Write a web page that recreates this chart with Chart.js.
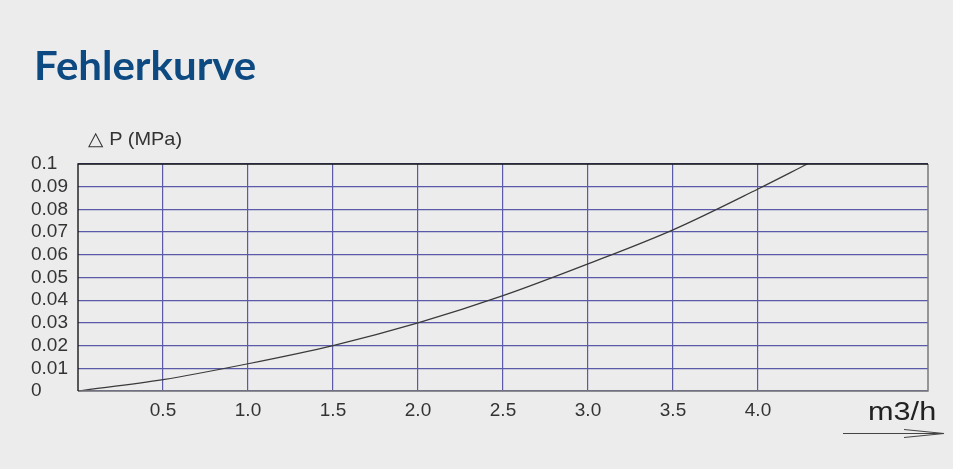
<!DOCTYPE html>
<html>
<head>
<meta charset="utf-8">
<script src="https://cdn.jsdelivr.net/npm/chart.js@4/dist/chart.umd.min.js"></script>
<style>
  html, body { margin:0; padding:0; background:#ececec; }
  #wrap { position:relative; width:953px; height:469px; overflow:hidden; background:#ececec; }
  canvas { position:absolute; left:0; top:0; }
  .t { position:absolute; white-space:nowrap; }
  #title { left:34px; top:41px; font-family:Lato, "Open Sans", sans-serif; font-weight:700; font-size:40px; color:#0d4a81; transform:scaleX(1.05); transform-origin:left top; }
  #ylab { left:88px; top:127px; font-family:"Liberation Sans", Arial, sans-serif; font-size:19px; color:#333; transform:scaleX(1.05); transform-origin:left top; }
  #xlab { left:868px; top:396px; font-family:"Liberation Sans", Arial, sans-serif; font-size:26px; color:#222; transform:scaleX(1.18); transform-origin:left top; }
</style>
</head>
<body>
<div id="wrap">
  <canvas id="c" width="953" height="469"></canvas>
  <div class="t" id="title">Fehlerkurve</div>
  <div class="t" id="ylab">△ P (MPa)</div>
  <div class="t" id="xlab">m3/h</div>
</div>
<script>
const flowX = [0, 0.5, 1.0, 1.5, 2.0, 2.5, 3.0, 3.5, 4.0, 4.29];
const pressureY = [0, 0.005, 0.012, 0.020, 0.030, 0.042, 0.056, 0.071, 0.089, 0.100];
const xTicks = [0.5, 1.0, 1.5, 2.0, 2.5, 3.0, 3.5, 4.0];
const yTicks = [0, 0.01, 0.02, 0.03, 0.04, 0.05, 0.06, 0.07, 0.08, 0.09, 0.1];
const xRange = [0, 5];
const yRange = [0, 0.1];

const points = flowX.map((x, i) => ({ x: x, y: pressureY[i] }));

const frame = {
  id: 'frame',
  afterDraw(chart) {
    const a = chart.chartArea, ctx = chart.ctx;
    ctx.save();
    ctx.lineWidth = 1.5;
    ctx.strokeStyle = '#7a7a7a';
    ctx.beginPath();
    ctx.moveTo(a.left, a.bottom); ctx.lineTo(a.right, a.bottom); ctx.lineTo(a.right, a.top);
    ctx.stroke();
    ctx.strokeStyle = '#1a1a1a';
    ctx.lineWidth = 1.4;
    ctx.beginPath();
    ctx.moveTo(a.left, a.bottom); ctx.lineTo(a.left, a.top); ctx.lineTo(a.right, a.top);
    ctx.stroke();
    // arrow under axis unit
    ctx.strokeStyle = '#444';
    ctx.lineWidth = 1.2;
    ctx.beginPath();
    ctx.moveTo(843, 433.5); ctx.lineTo(944, 433.5);
    ctx.moveTo(904, 429.5); ctx.lineTo(944, 433.5); ctx.lineTo(904, 437.5);
    ctx.stroke();
    ctx.restore();
  }
};

new Chart(document.getElementById('c'), {
  type: 'scatter',
  data: {
    datasets: [{
      data: points,
      showLine: true,
      borderColor: '#3a3a3a',
      borderWidth: 1.2,
      pointRadius: 0,
      tension: 0.4,
      cubicInterpolationMode: 'monotone',
      clip: false
    }]
  },
  options: {
    responsive: false,
    animation: false,
    devicePixelRatio: 1,
    layout: { padding: { top: 164, right: 25, left: 31, bottom: 0 } },
    plugins: { legend: { display: false }, tooltip: { enabled: false }, title: { display: false } },
    scales: {
      x: {
        type: 'linear',
        min: xRange[0], max: xRange[1],
        afterBuildTicks: s => { s.ticks = xTicks.map(v => ({ value: v })); },
        afterFit: s => { s.height = 78; },
        border: { display: false },
        grid: { color: '#5a5aa8', lineWidth: 1.2, drawTicks: false },
        ticks: {
          padding: 8,
          color: '#333',
          font: { family: '"Liberation Sans", Arial, sans-serif', size: 19 },
          callback: v => v.toFixed(1),
          maxRotation: 0, autoSkip: false
        }
      },
      y: {
        type: 'linear',
        min: yRange[0], max: yRange[1],
        afterBuildTicks: s => { s.ticks = yTicks.map(v => ({ value: v })); },
        afterFit: s => { s.width = 47; },
        border: { display: false },
        grid: { color: '#5a5aa8', lineWidth: 1.2, drawTicks: false },
        ticks: {
          crossAlign: 'far',
          padding: 4,
          color: '#333',
          font: { family: '"Liberation Sans", Arial, sans-serif', size: 19 },
          callback: v => String(Math.round(v * 100) / 100),
          autoSkip: false
        }
      }
    }
  },
  plugins: [frame]
});
</script>
</body>
</html>
